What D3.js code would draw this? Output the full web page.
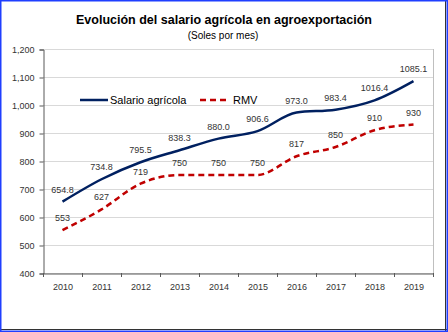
<!DOCTYPE html>
<html><head><meta charset="utf-8">
<script src="https://cdn.jsdelivr.net/npm/d3@7"></script>
<style>body{margin:0;padding:0;background:#fff}svg{display:block}</style>
</head><body>
<script>
const years = ["2010","2011","2012","2013","2014","2015","2016","2017","2018","2019"];
const salario = [654.8, 734.8, 795.5, 838.3, 880.0, 906.6, 973.0, 983.4, 1016.4, 1085.1];
const rmv = [553, 627, 719, 750, 750, 750, 817, 850, 910, 930];
const salarioLabels = ["654.8","734.8","795.5","838.3","880.0","906.6","973.0","983.4","1016.4","1085.1"];
const rmvLabels = ["553","627","719","750","750","750","817","850","910","930"];
const yTicks = [400,500,600,700,800,900,1000,1100,1200];

const W = 448, H = 332;
const svg = d3.select("body").append("svg").attr("width", W).attr("height", H);
const font = "'Liberation Sans', Arial, sans-serif";

svg.append("rect").attr("x",0).attr("y",0).attr("width",W).attr("height",H).attr("fill","#fff");

const m = {left:43, right:433, top:49, bottom:273};
const x = d3.scaleBand().domain(years).range([m.left, m.right]);
const y = d3.scaleLinear().domain([400,1200]).range([m.bottom, m.top]);

// gridlines
svg.append("g").selectAll("line").data(yTicks).join("line")
  .attr("x1", m.left).attr("x2", m.right)
  .attr("y1", d=>y(d)+0.5).attr("y2", d=>y(d)+0.5)
  .attr("stroke", "#d9d9d9").attr("stroke-width",1);
svg.append("line").attr("x1",m.right+0.5).attr("x2",m.right+0.5).attr("y1",m.top).attr("y2",m.bottom)
  .attr("stroke","#bfbfbf");

// y axis
const yAxis = svg.append("g").attr("transform",`translate(${m.left+0.5},0.5)`)
  .call(d3.axisLeft(y).tickValues(yTicks).tickSize(4).tickFormat(d3.format(",")));
yAxis.select(".domain").attr("stroke","#595959");
yAxis.selectAll(".tick line").attr("stroke","#595959");
yAxis.selectAll("text").attr("font-family",font).attr("font-size",9).attr("fill","#333").attr("x",-9);

// x axis
const xAxis = svg.append("g").attr("transform",`translate(0.5,${m.bottom+0.5})`)
  .call(d3.axisBottom(x).tickSize(0));
xAxis.select(".domain").attr("stroke","#595959");
xAxis.selectAll("text").attr("font-family",font).attr("font-size",9).attr("fill","#333").attr("dy","1.45em");
const bounds = years.map(d=>x(d)).concat([m.right]);
svg.append("g").selectAll("line").data(bounds).join("line")
  .attr("x1",d=>Math.round(d)+0.5).attr("x2",d=>Math.round(d)+0.5)
  .attr("y1",m.bottom).attr("y2",m.bottom+4).attr("stroke","#595959");

const cx = d => x(d) + x.bandwidth()/2;
const line = d3.line().x((d,i)=>cx(years[i])).y(d=>y(d)).curve(d3.curveMonotoneX);

svg.append("path").datum(rmv).attr("d",line).attr("fill","none")
  .attr("stroke","#c00000").attr("stroke-width",2.5).attr("stroke-dasharray","6,4");
svg.append("path").datum(salario).attr("d",line).attr("fill","none")
  .attr("stroke","#002060").attr("stroke-width",2.5);

// data labels
svg.append("g").selectAll("text").data(salario).join("text")
  .attr("x",(d,i)=>cx(years[i])).attr("y",d=>y(d)-9)
  .attr("text-anchor","middle").attr("font-family",font).attr("font-size",9).attr("fill","#333")
  .text((d,i)=>salarioLabels[i]);
svg.append("g").selectAll("text").data(rmv).join("text")
  .attr("x",(d,i)=>cx(years[i])).attr("y",d=>y(d)-9)
  .attr("text-anchor","middle").attr("font-family",font).attr("font-size",9).attr("fill","#333")
  .text((d,i)=>rmvLabels[i]);

// legend
const lg = svg.append("g");
lg.append("line").attr("x1",80).attr("x2",108).attr("y1",100).attr("y2",100).attr("stroke","#002060").attr("stroke-width",2.5);
lg.append("text").attr("x",110).attr("y",104).attr("font-family",font).attr("font-size",11).attr("fill","#000").text("Salario agrícola");
lg.append("line").attr("x1",200).attr("x2",227).attr("y1",100).attr("y2",100).attr("stroke","#c00000").attr("stroke-width",2.5).attr("stroke-dasharray","6,4");
lg.append("text").attr("x",233).attr("y",104).attr("font-family",font).attr("font-size",11).attr("fill","#000").text("RMV");

// titles
svg.append("text").attr("x",224).attr("y",24).attr("text-anchor","middle").attr("font-family",font)
  .attr("font-size",12.5).attr("font-weight","bold").attr("fill","#000").text("Evolución del salario agrícola en agroexportación");
svg.append("text").attr("x",223).attr("y",39).attr("text-anchor","middle").attr("font-family",font)
  .attr("font-size",10).attr("fill","#000").text("(Soles por mes)");

// frame
svg.append("line").attr("x1",0).attr("x2",W).attr("y1",H-2.5).attr("y2",H-2.5).attr("stroke","#333").attr("stroke-width",1);
svg.append("line").attr("x1",W-2.5).attr("x2",W-2.5).attr("y1",0).attr("y2",H).attr("stroke","#333").attr("stroke-width",1);
svg.append("rect").attr("x",0.75).attr("y",0.75).attr("width",W-1.5).attr("height",H-1.5)
  .attr("fill","none").attr("stroke","#1f3fff").attr("stroke-width",1.5);
</script>
</body></html>
